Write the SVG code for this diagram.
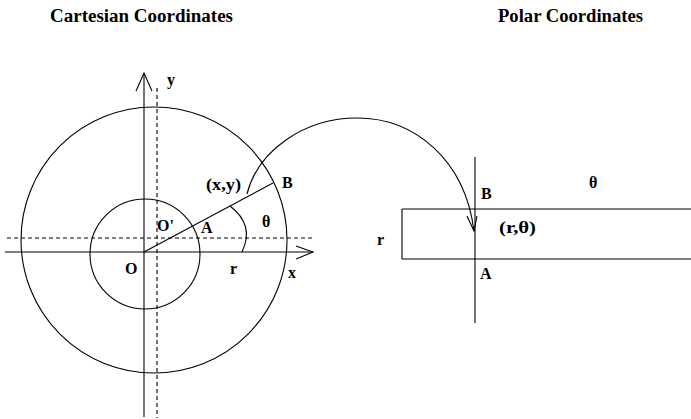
<svg xmlns="http://www.w3.org/2000/svg" width="691" height="419" viewBox="0 0 691 419">
<style>
.ln{fill:none;stroke:#000;stroke-width:1.1}
.dash{fill:none;stroke:#000;stroke-width:1.1;stroke-dasharray:4 3}
.t{font-family:"Liberation Serif","Times New Roman",serif;font-weight:bold;font-size:16px;fill:#000}
.title{font-family:"Liberation Serif","Times New Roman",serif;font-weight:bold;font-size:18px;fill:#000}
</style>
<rect width="691" height="419" fill="#fff"/>
<g id="titles">
<text class="title" x="50" y="22" textLength="183" lengthAdjust="spacingAndGlyphs">Cartesian Coordinates</text>
<text class="title" x="498" y="22" textLength="145" lengthAdjust="spacingAndGlyphs">Polar Coordinates</text>
</g>
<g id="cartesian">
<circle class="ln" cx="154" cy="240" r="133"/>
<circle class="ln" cx="145" cy="254" r="55"/>
<line class="dash" x1="157" y1="88" x2="157" y2="418"/>
<line class="dash" x1="7" y1="238" x2="313" y2="238"/>
<line class="ln" x1="144" y1="73" x2="144" y2="417"/>
<polyline class="ln" points="136,91 144,73 152,91"/>
<line class="ln" x1="5" y1="252" x2="313" y2="252"/>
<polyline class="ln" points="296,246 313,252 296,259"/>
<line class="ln" x1="144" y1="252" x2="273" y2="183"/>
<path class="ln" d="M230,206 Q255,225 242,252"/>
<text class="t" x="167" y="85">y</text>
<text class="t" x="206" y="190" textLength="35" lengthAdjust="spacingAndGlyphs">(x,y)</text>
<text class="t" x="282" y="188">B</text>
<text class="t" x="157" y="231">O'</text>
<text class="t" x="201" y="233">A</text>
<text class="t" x="262" y="227">θ</text>
<text class="t" x="125" y="274">O</text>
<text class="t" x="230" y="274">r</text>
<text class="t" x="288" y="278">x</text>
</g>
<g id="polar">
<path class="ln" d="M402,209 H692 M402,259 H692 M402,209 V259"/>
<line class="ln" x1="475" y1="157" x2="475" y2="323"/>
<text class="t" x="481" y="199">B</text>
<text class="t" x="589" y="188">θ</text>
<text class="t" x="499" y="233" textLength="37" lengthAdjust="spacingAndGlyphs">(r,θ)</text>
<text class="t" x="377" y="245">r</text>
<text class="t" x="480" y="279">A</text>
</g>
<g id="connectors">
<path class="ln" d="M247,194 C258,150 305,118 357,118 C415,118 465,160 474,231"/>
<polyline class="ln" points="467,216 474,231 477,216"/>
</g>
</svg>
